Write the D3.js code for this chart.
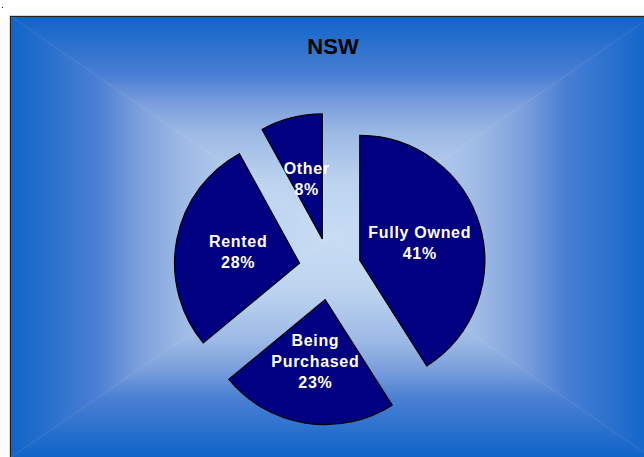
<!DOCTYPE html>
<html>
<head>
<meta charset="utf-8">
<script src="https://cdn.jsdelivr.net/npm/d3@7"></script>
<style>
  html, body { margin: 0; padding: 0; background: #fff; overflow: hidden; }
  svg { display: block; }
  .title { font-family: "Liberation Sans", Arial, sans-serif; font-weight: bold; font-size: 22px; fill: #000; }
  .slice { fill: #000080; stroke: #000; stroke-width: 1.2px; }
  .lbl { font-family: "Liberation Sans", Arial, sans-serif; font-weight: bold; font-size: 16px; fill: #fff; letter-spacing: 0.7px; }
</style>
</head>
<body>
<svg id="chart"></svg>
<script>
// chart data
var title = "NSW";
var categories = ["Fully Owned", "Being Purchased", "Rented", "Other"];
var labelLines = [["Fully Owned"], ["Being", "Purchased"], ["Rented"], ["Other"]];
var values = [41, 23, 28, 8];

var width = 644, height = 457;
var svg = d3.select("#chart").attr("width", width).attr("height", height);
var defs = svg.append("defs");

// background panel, "from centre" gradient done as 4 triangles
var px0 = 10, py0 = 16, px1 = 652, py1 = 458;
var cx = 331, cy = 237;
var stops = [[0, "#0f64c8"], [0.27, "#4a7fd3"], [0.4, "#7b9fdc"], [0.53, "#9cb9e5"], [0.75, "#bcd3ef"], [1, "#c8ddf3"]];

var sides = [
  {id: "gTop", x1: cx, y1: py0, x2: cx, y2: cy, pts: [[px0, py0], [px1, py0], [cx, cy]]},
  {id: "gBot", x1: cx, y1: py1, x2: cx, y2: cy, pts: [[px0, py1], [px1, py1], [cx, cy]]},
  {id: "gLeft", x1: px0, y1: cy, x2: cx, y2: cy, pts: [[px0, py0], [px0, py1], [cx, cy]]},
  {id: "gRight", x1: px1, y1: cy, x2: cx, y2: cy, pts: [[px1, py0], [px1, py1], [cx, cy]]}
];
sides.forEach(function(s) {
  var g = defs.append("linearGradient").attr("id", s.id)
    .attr("gradientUnits", "userSpaceOnUse")
    .attr("x1", s.x1).attr("y1", s.y1).attr("x2", s.x2).attr("y2", s.y2);
  g.selectAll("stop").data(stops).enter().append("stop")
    .attr("offset", function(d) { return d[0]; })
    .attr("stop-color", function(d) { return d[1]; });
  svg.append("polygon")
    .attr("points", s.pts.map(function(p) { return p.join(","); }).join(" "))
    .attr("fill", "url(#" + s.id + ")")
    .attr("stroke", "url(#" + s.id + ")")
    .attr("stroke-width", 0.5);
});
svg.append("rect")
  .attr("x", px0 + 0.5).attr("y", py0 + 0.5)
  .attr("width", px1 - px0).attr("height", py1 - py0)
  .attr("fill", "none").attr("stroke", "#222").attr("stroke-width", 1);

svg.append("rect").attr("x", 2).attr("y", 7).attr("width", 1).attr("height", 1).attr("fill", "#000");

svg.append("text").attr("class", "title")
  .attr("x", 333).attr("y", 54)
  .attr("text-anchor", "middle")
  .text(title);

// exploded pie
var radius = 125, explode = 31;
var pie = d3.pie().sort(null).value(function(d) { return d; });
var arc = d3.arc().innerRadius(0).outerRadius(radius);
var arcs = pie(values);

var g = svg.append("g").attr("transform", "translate(330,269)");

var sl = g.selectAll(".s").data(arcs).enter().append("g")
  .attr("transform", function(d) {
    var a = (d.startAngle + d.endAngle) / 2;
    return "translate(" + (explode * Math.sin(a)) + "," + (-explode * Math.cos(a)) + ")";
  });

sl.append("path").attr("class", "slice").attr("d", arc);

var lineH = 21;
sl.append("text").attr("class", "lbl")
  .attr("text-anchor", "middle")
  .each(function(d, i) {
    var c = arc.centroid(d);
    var lines = labelLines[i].concat([Math.round(d.data) + "%"]);
    var t = d3.select(this);
    lines.forEach(function(ln, j) {
      t.append("tspan")
        .attr("x", c[0])
        .attr("y", c[1] + (j - (lines.length - 1) / 2) * lineH + 6)
        .text(ln);
    });
  });
</script>
</body>
</html>
